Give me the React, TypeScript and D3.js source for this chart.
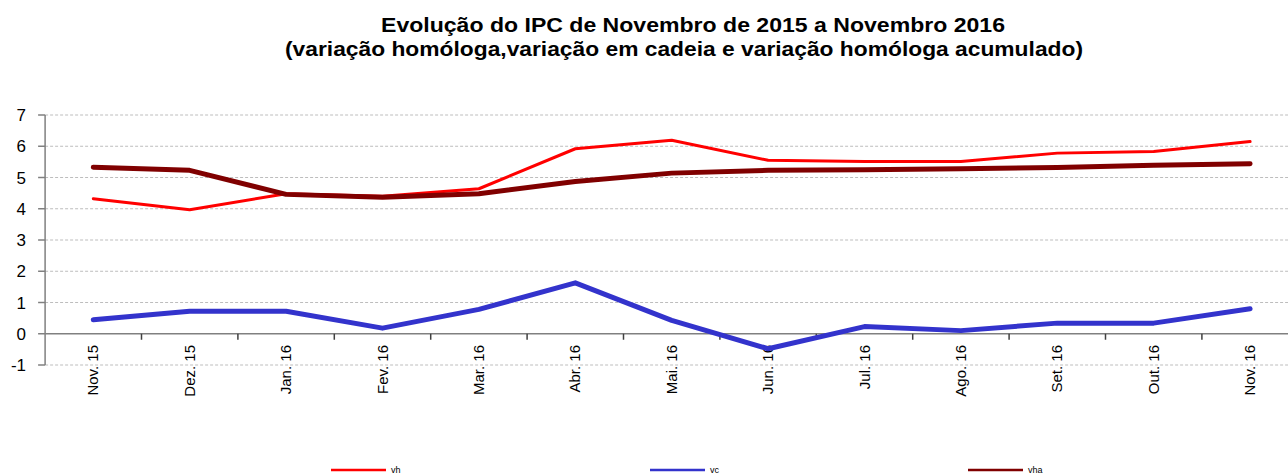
import React from "react";
import * as d3 from "d3";

const categories = ["Nov. 15", "Dez. 15", "Jan. 16", "Fev. 16", "Mar. 16", "Abr. 16", "Mai. 16", "Jun. 16", "Jul. 16", "Ago. 16", "Set. 16", "Out. 16", "Nov. 16"];
const vh = [4.32, 3.97, 4.48, 4.4, 4.64, 5.92, 6.19, 5.55, 5.51, 5.51, 5.78, 5.83, 6.15];
const vc = [0.45, 0.72, 0.72, 0.18, 0.78, 1.63, 0.43, -0.48, 0.23, 0.1, 0.34, 0.34, 0.8];
const vha = [5.33, 5.23, 4.46, 4.37, 4.48, 4.87, 5.14, 5.23, 5.25, 5.28, 5.32, 5.39, 5.44];
const yTicks = [-1, 0, 1, 2, 3, 4, 5, 6, 7];
const titleLines = [
  "Evolução do IPC  de Novembro de 2015 a Novembro 2016",
  "(variação homóloga,variação em cadeia e variação homóloga acumulado)",
];

const series = [
  { name: "vh", values: vh, color: "#FF0000", width: 3 },
  { name: "vc", values: vc, color: "#3333CC", width: 5 },
  { name: "vha", values: vha, color: "#800000", width: 5 },
];

const W = 1288;
const H = 475;
const FONT = "'Liberation Sans', Arial, sans-serif";

export default function App() {
  const left = 45.1;
  const step = 96.4;
  const x = d3
    .scaleBand<string>()
    .domain(categories)
    .range([left, left + step * categories.length])
    .paddingInner(0)
    .paddingOuter(0);
  const y = d3.scaleLinear().domain([-1, 7]).range([365, 115]);
  const cx = (c: string) => (x(c) as number) + x.bandwidth() / 2;

  const line = (vals: number[]) =>
    d3
      .line<number>()
      .x((_, i) => cx(categories[i]))
      .y((v) => y(v))(vals) as string;

  const legendX = [331, 650, 968];

  return (
    <svg
      width={W}
      height={H}
      style={{ position: "absolute", left: 0, top: 0, background: "#fff" }}
    >
      <rect x={0} y={0} width={W} height={H} fill="#fff" />
      {/* title */}
      <text
        x={381}
        y={32}
        fontFamily={FONT}
        fontWeight="bold"
        fontSize={21}
        textLength={624}
        lengthAdjust="spacingAndGlyphs"
        fill="#000"
      >
        {titleLines[0]}
      </text>
      <text
        x={285}
        y={56}
        fontFamily={FONT}
        fontWeight="bold"
        fontSize={21}
        textLength={798}
        lengthAdjust="spacingAndGlyphs"
        fill="#000"
      >
        {titleLines[1]}
      </text>

      {/* gridlines */}
      {yTicks
        .filter((t) => t !== 0)
        .map((t) => (
          <line
            key={"g" + t}
            x1={left}
            x2={W}
            y1={y(t)}
            y2={y(t)}
            stroke="#bdbdbd"
            strokeWidth={1}
            strokeDasharray="3,2"
          />
        ))}

      {/* y axis */}
      <line x1={left} x2={left} y1={y(7)} y2={y(-1)} stroke="#808080" strokeWidth={1.5} />
      {yTicks.map((t) => (
        <g key={"yt" + t}>
          <line x1={left - 7} x2={left} y1={y(t)} y2={y(t)} stroke="#808080" strokeWidth={1.5} />
          <text
            x={26}
            y={y(t) + 6}
            textAnchor="end"
            fontFamily={FONT}
            fontSize={17}
            fill="#000"
          >
            {t}
          </text>
        </g>
      ))}

      {/* x axis at 0 */}
      <line x1={left} x2={W} y1={y(0)} y2={y(0)} stroke="#808080" strokeWidth={1.5} />
      {categories.slice(1).map((c) => (
        <line
          key={"xt" + c}
          x1={x(c) as number}
          x2={x(c) as number}
          y1={y(0)}
          y2={y(0) + 6}
          stroke="#404040"
          strokeWidth={1.5}
        />
      ))}
      {categories.map((c) => (
        <text
          key={"xl" + c}
          transform={`translate(${cx(c) + 5},345) rotate(-90)`}
          textAnchor="end"
          fontFamily={FONT}
          fontSize={15}
          fill="#000"
        >
          {c}
        </text>
      ))}

      {/* series */}
      {series.map((s) => (
        <path
          key={s.name}
          d={line(s.values)}
          fill="none"
          stroke={s.color}
          strokeWidth={s.width}
          strokeLinejoin="round"
          strokeLinecap="round"
        />
      ))}

      {/* legend */}
      {series.map((s, i) => (
        <g key={"lg" + s.name}>
          <line
            x1={legendX[i]}
            x2={legendX[i] + 55}
            y1={470}
            y2={470}
            stroke={s.color}
            strokeWidth={2.5}
          />
          <text
            x={legendX[i] + 60}
            y={473}
            fontFamily={FONT}
            fontSize={9}
            fill="#000"
          >
            {s.name}
          </text>
        </g>
      ))}
    </svg>
  );
}
